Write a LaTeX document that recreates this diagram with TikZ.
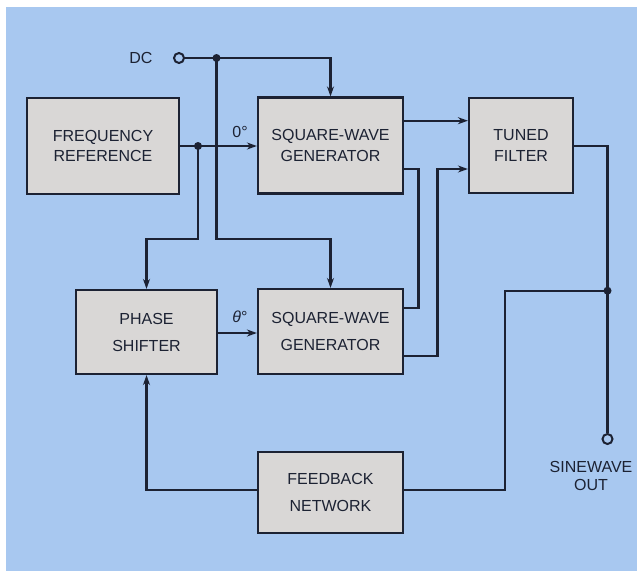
\documentclass[tikz,border=0pt]{standalone}
\usepackage{fontspec}
\setmainfont{Liberation Sans}
\usetikzlibrary{arrows.meta}
\definecolor{bgblue}{HTML}{A8C8F0}
\definecolor{boxgray}{HTML}{D9D7D6}
\definecolor{ink}{HTML}{1C2233}
\begin{document}
\begin{tikzpicture}[x=1pt,y=-1pt,
  every node/.style={text=ink},
  blk/.style={draw=ink,line width=2.2pt,fill=boxgray,inner sep=0pt,align=center,font=\fontsize{16}{20.5}\selectfont},
  wide/.style={font=\fontsize{16}{27}\selectfont},
  lbl/.style={inner sep=0pt,font=\fontsize{16}{18.5}\selectfont,align=center},
  conn/.style={draw=ink,line width=2.1pt,line join=miter},
  arr/.style={conn,-{Stealth[length=10pt,width=7pt]}},
  dot/.style={circle,fill=ink,inner sep=0pt,minimum size=8pt},
  term/.style={circle,draw=ink,line width=2pt,fill=bgblue,inner sep=0pt,minimum size=10pt}]
\useasboundingbox (0,0) rectangle (637,574);
\fill[white] (0,0) rectangle (637,574);
\fill[bgblue] (6,7) rectangle (637,571);

% blocks
\node[blk,minimum width=152pt,minimum height=96pt] (fr) at (103,146) {FREQUENCY\\REFERENCE};
\node[blk,minimum width=145pt,minimum height=96pt] (sq1) at (330.5,145.5) {SQUARE-WAVE\\GENERATOR};
\node[blk,minimum width=104pt,minimum height=95pt] (tf) at (521,145.5) {TUNED\\FILTER};
\node[blk,wide,minimum width=141pt,minimum height=84pt] (ps) at (146.5,332) {PHASE\\SHIFTER};
\node[blk,wide,minimum width=145pt,minimum height=85pt] (sq2) at (330.5,331.5) {SQUARE-WAVE\\GENERATOR};
\node[blk,wide,minimum width=145pt,minimum height=81pt] (fb) at (330.5,492.5) {FEEDBACK\\NETWORK};

% terminals and junctions
\node[term] (dc) at (179,58) {};
\node[lbl] (dclbl) at (141,58) {DC};
\node[dot] (j1) at (216.5,58) {};
\node[dot] (j2) at (198,146) {};
\node[dot] (j3) at (607.5,290.7) {};
\node[term] (out) at (607.5,439) {};
\node[lbl] (outlbl) at (591,476) {SINEWAVE\\OUT};
\node[lbl] (l0) at (240,132) {0°};
\node[lbl] (lth) at (240,316.5) {\textit{θ}°};

\coordinate (c1) at (216.5,239);
\coordinate (c2) at (198,239);
\coordinate (a1) at (418.5,169);
\coordinate (a2) at (418.5,307.7);
\coordinate (b1) at (437.5,356);
\coordinate (b2) at (437.5,169);
\coordinate (t1) at (607.5,146);
\coordinate (f1) at (505,290.7);
\coordinate (f2) at (505,490);
\coordinate (g1) at (146.5,490);

% connectors
\draw[conn] (dc.east) -- (j1.center);
\draw[arr] (j1.center) -| (sq1.north);
\draw[arr] (j1.center) -- (c1) -| (sq2.north);
\draw[arr] (fr.east) -- (sq1.west |- fr.east);
\draw[arr] (j2.center) -- (c2) -| (ps.north);
\draw[arr] (sq1.east |- 0,120.7) -- (tf.west |- 0,120.7);
\draw[conn] (sq1.east |- a1) -- (a1) -- (a2) -- (sq2.east |- a2);
\draw[arr] (sq2.east |- b1) -- (b1) -- (b2) -- (tf.west |- b2);
\draw[conn] (tf.east |- t1) -- (t1) -- (j3.center) -- (out.north);
\draw[conn] (j3.center) -- (f1) -- (f2) -- (fb.east |- f2);
\draw[arr] (fb.west |- g1) -- (g1) -- (ps.south);
\draw[arr] (ps.east |- 0,333) -- (sq2.west |- 0,333);
\end{tikzpicture}
\end{document}
